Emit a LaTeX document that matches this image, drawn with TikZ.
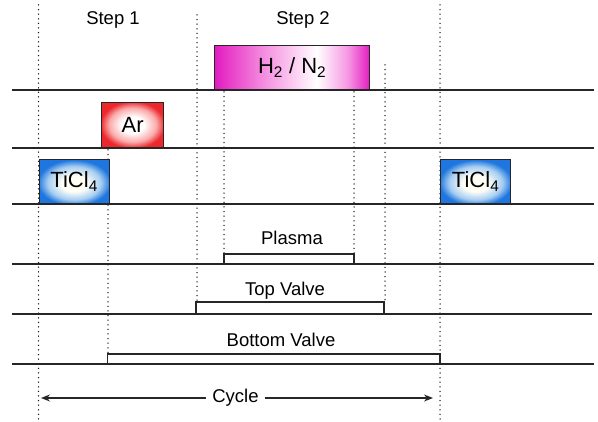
\documentclass[tikz,border=0pt]{standalone}
\usepackage{fontspec}
\setmainfont{Liberation Sans}
\usetikzlibrary{arrows.meta}
\definecolor{magA}{RGB}{226,28,192}
\definecolor{magB}{RGB}{246,150,226}
\definecolor{redA}{RGB}{236,40,44}
\definecolor{redB}{RGB}{250,170,170}
\definecolor{bluA}{RGB}{30,118,222}
\definecolor{bluB}{RGB}{165,205,242}
\definecolor{whA}{RGB}{255,255,246}
\pgfdeclarehorizontalshading{hnshade}{100bp}{color(0bp)=(magA); color(25bp)=(magA); color(42bp)=(magB); color(58bp)=(white); color(68bp)=(magB); color(75bp)=(magA); color(100bp)=(magA)}
\pgfdeclareradialshading{arshade}{\pgfpoint{0bp}{0bp}}{color(0bp)=(white); color(9bp)=(white); color(19bp)=(redB); color(26bp)=(redA); color(50bp)=(redA)}
\pgfdeclareradialshading{tishade}{\pgfpoint{0bp}{-3bp}}{color(0bp)=(whA); color(9bp)=(whA); color(19bp)=(bluB); color(26bp)=(bluA); color(50bp)=(bluA)}
\begin{document}
\begin{tikzpicture}[x=1pt,y=-1pt,
  base/.style={draw=black!85, line width=1.6pt},
  sig/.style={draw=black!85, line width=1.3pt},
  dots/.style={draw=black!90, line width=1.5pt, line cap=round, dash pattern=on 0pt off 4.6pt},
  gasbox/.style={draw=black!85, line width=1.3pt, anchor=south west, inner sep=0pt,
    minimum height=44pt, font=\fontsize{22}{24}\selectfont},
  lbl/.style={font=\fontsize{18.5}{21}\selectfont, inner sep=0pt, anchor=base},
  cyclearrow/.style={line width=1.3pt, draw=black!85, >={Stealth[length=9pt,width=7pt]}, <->},
]
\useasboundingbox (0,0) rectangle (598,422);

% dotted guide lines
\draw[dots] (38.5,5) -- (38.5,420);
\draw[dots] (440,5) -- (440,420);
\draw[dots] (108,150) -- (108,354);
\draw[dots] (197,15) -- (197,302);
\draw[dots] (224,92) -- (224,254);
\draw[dots] (354,92) -- (354,254);
\draw[dots] (385,65) -- (385,302);

% baselines
\draw[base] (12,90) -- (594,90);
\draw[base] (12,148) -- (594,148);
\draw[base] (12,204) -- (594,204);
\draw[base] (12,264) -- (594,264);
\draw[base] (12,314) -- (592,314);
\draw[base] (12,364) -- (594,364);

% gas pulses
\node[gasbox, shading=hnshade, minimum width=155pt] (hn) at (214,90) {H\textsubscript{2} / N\textsubscript{2}};
\node[gasbox, shading=arshade, minimum width=62pt, minimum height=45pt] (ar) at (101,148) {Ar};
\node[gasbox, shading=tishade, minimum width=70pt] (ti1) at (38.5,204) {TiCl\textsubscript{4}};
\node[gasbox, shading=tishade, minimum width=70pt] (ti2) at (440,204) {TiCl\textsubscript{4}};

% plasma / valves
\draw[sig] (224,264) -- (224,254) -- (354,254) -- (354,264);
\draw[sig] (196,314) -- (196,302) -- (384,302) -- (384,314);
\draw[sig] (107.5,364) -- (107.5,354) -- (440,354) -- (440,364);

% labels
\node[lbl] (s1) at (113,25) {Step 1};
\node[lbl] (s2) at (303,25) {Step 2};
\node[lbl] (pl) at (292,245) {Plasma};
\node[lbl] (tv) at (285,295.5) {Top Valve};
\node[lbl] (bv) at (281,346.5) {Bottom Valve};

% cycle arrow
\coordinate (cl) at (41,398);
\coordinate (cr) at (433,398);
\draw[cyclearrow] (cl) -- (cr);
\node[font=\fontsize{18.5}{21}\selectfont, fill=white, inner xsep=6pt, inner ysep=2pt] (cy) at (235.5,398) {Cycle};
\end{tikzpicture}
\end{document}
